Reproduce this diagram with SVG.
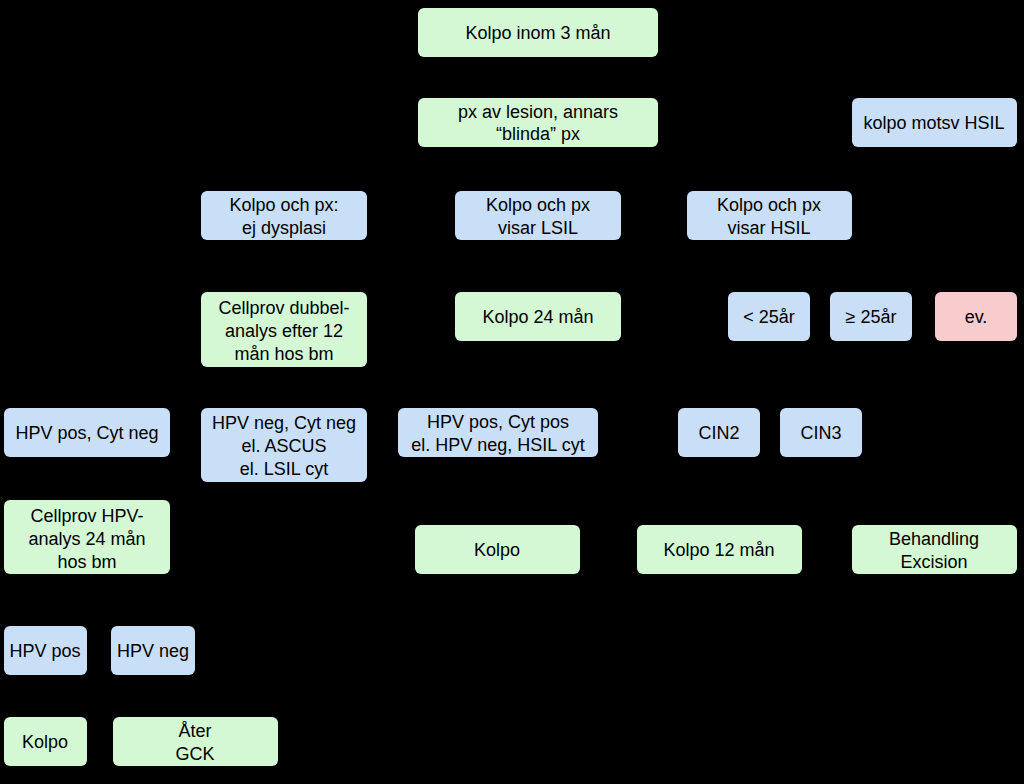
<svg xmlns="http://www.w3.org/2000/svg" width="1024" height="784" viewBox="0 0 1024 784">
<style>
.g{fill:#d3f8d3}.b{fill:#c9dff7}.p{fill:#f8cccc}
text{font-family:"Liberation Sans",Arial,sans-serif;font-size:18px;fill:#000;text-anchor:middle}
.c{stroke:#000;stroke-width:2;fill:none;marker-end:url(#a)}
</style>
<defs><marker id="a" markerWidth="8" markerHeight="8" refX="7" refY="4" orient="auto"><path d="M0,0L8,4L0,8z" fill="#000"/></marker></defs>
<rect width="1024" height="784" fill="#000"/>
<g id="connectors">
<path class="c" d="M538,57V96"/><path class="c" d="M538,147V189"/>
</g>
<g id="n1"><rect class="g" x="418" y="8" width="240" height="49" rx="6"/><text x="538" y="39">Kolpo  inom 3 mån</text></g>
<g id="n2"><rect class="g" x="418" y="98" width="240" height="49" rx="6"/><text x="538" y="118">px av lesion, annars</text><text x="538" y="140">“blinda” px</text></g>
<g id="n3"><rect class="b" x="852" y="98" width="165" height="49" rx="6"/><text x="934" y="129">kolpo motsv HSIL</text></g>
<g id="n4"><rect class="b" x="201" y="191" width="166" height="49" rx="6"/><text x="284" y="211">Kolpo och px:</text><text x="284" y="234">ej dysplasi</text></g>
<g id="n5"><rect class="b" x="455" y="191" width="166" height="49" rx="6"/><text x="538" y="211">Kolpo och px</text><text x="538" y="234">visar LSIL</text></g>
<g id="n6"><rect class="b" x="687" y="191" width="165" height="49" rx="6"/><text x="769" y="211">Kolpo och px</text><text x="769" y="234">visar HSIL</text></g>
<g id="n7"><rect class="g" x="201" y="292" width="166" height="75" rx="6"/><text x="284" y="314">Cellprov dubbel-</text><text x="284" y="337">analys efter 12</text><text x="284" y="360">mån hos bm</text></g>
<g id="n8"><rect class="g" x="455" y="292" width="166" height="49" rx="6"/><text x="538" y="323">Kolpo 24 mån</text></g>
<g id="n9"><rect class="b" x="728" y="292" width="82" height="49" rx="6"/><text x="769" y="323">&lt; 25år</text></g>
<g id="n10"><rect class="b" x="830" y="292" width="82" height="49" rx="6"/><text x="871" y="323">≥ 25år</text></g>
<g id="n11"><rect class="p" x="935" y="292" width="82" height="49" rx="6"/><text x="976" y="323">ev.</text></g>
<g id="n12"><rect class="b" x="4" y="408" width="166" height="49" rx="6"/><text x="87" y="439">HPV pos, Cyt neg</text></g>
<g id="n13"><rect class="b" x="201" y="408" width="166" height="74" rx="6"/><text x="284" y="429">HPV neg, Cyt neg</text><text x="284" y="452">el. ASCUS</text><text x="284" y="475">el. LSIL cyt</text></g>
<g id="n14"><rect class="b" x="398" y="408" width="200" height="49" rx="6"/><text x="498" y="428">HPV pos, Cyt pos</text><text x="498" y="451">el. HPV neg, HSIL cyt</text></g>
<g id="n15"><rect class="b" x="678" y="408" width="82" height="49" rx="6"/><text x="719" y="439">CIN2</text></g>
<g id="n16"><rect class="b" x="780" y="408" width="82" height="49" rx="6"/><text x="821" y="439">CIN3</text></g>
<g id="n17"><rect class="g" x="4" y="500" width="166" height="74" rx="6"/><text x="87" y="522">Cellprov HPV-</text><text x="87" y="545">analys 24 mån</text><text x="87" y="568">hos bm</text></g>
<g id="n18"><rect class="g" x="415" y="525" width="165" height="49" rx="6"/><text x="497" y="556">Kolpo</text></g>
<g id="n19"><rect class="g" x="637" y="525" width="165" height="49" rx="6"/><text x="719" y="556">Kolpo 12 mån</text></g>
<g id="n20"><rect class="g" x="852" y="525" width="165" height="49" rx="6"/><text x="934" y="545">Behandling</text><text x="934" y="568">Excision</text></g>
<g id="n21"><rect class="b" x="4" y="626" width="83" height="49" rx="6"/><text x="45" y="657">HPV pos</text></g>
<g id="n22"><rect class="b" x="111" y="626" width="84" height="49" rx="6"/><text x="153" y="657">HPV neg</text></g>
<g id="n23"><rect class="g" x="4" y="717" width="83" height="49" rx="6"/><text x="45" y="748">Kolpo</text></g>
<g id="n24"><rect class="g" x="113" y="717" width="165" height="49" rx="6"/><text x="195" y="737">Åter</text><text x="195" y="760">GCK</text></g>
</svg>
